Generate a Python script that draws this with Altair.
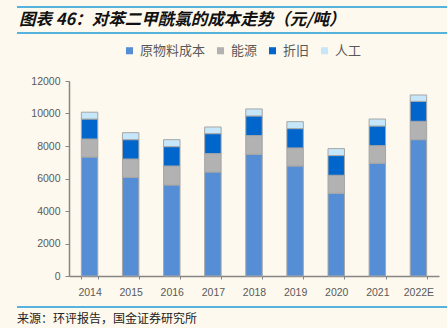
import altair as alt
import pandas as pd

years = ["2014", "2015", "2016", "2017", "2018", "2019", "2020", "2021", "2022E"]
raw = [7320, 6070, 5600, 6400, 7490, 6770, 5090, 6940, 8390]
energy = [1110, 1130, 1170, 1130, 1150, 1110, 1110, 1080, 1130]
deprec = [1230, 1190, 1190, 1230, 1210, 1190, 1210, 1210, 1230]
labor = [420, 430, 430, 410, 430, 430, 430, 430, 390]
series = ["原物料成本", "能源", "折旧", "人工"]
colors = ["#558ED5", "#B2B2B2", "#0066CC", "#C6E7FA"]

rows = []
for i, y in enumerate(years):
    for k, (name, vals) in enumerate(zip(series, [raw, energy, deprec, labor])):
        rows.append({"year": y, "series": name, "value": vals[i], "order": k})
df = pd.DataFrame(rows)

FONT_CN = "Noto Sans CJK SC"
FONT_NUM = "Liberation Sans"
LINE = "#1E9BD7"

bars = alt.Chart(df).mark_bar(stroke="#A6A6A6", strokeWidth=1).encode(
    x=alt.X("year:N", sort=years, title=None,
            scale=alt.Scale(paddingInner=0.6, paddingOuter=0.3),
            axis=alt.Axis(labelAngle=0, labelFont=FONT_NUM, labelFontSize=10.5,
                          labelColor="#595959", domainColor="#868686", tickColor="#868686",
                          tickSize=3, tickBand="extent", labelPadding=8, domainWidth=1.5)),
    y=alt.Y("value:Q", stack="zero", title=None,
            scale=alt.Scale(domain=[0, 12000], nice=False),
            axis=alt.Axis(values=[0, 2000, 4000, 6000, 8000, 10000, 12000], grid=False,
                          format="d",
                          labelFont=FONT_NUM, labelFontSize=10.5, labelColor="#595959",
                          domainColor="#868686", tickColor="#868686", tickSize=4,
                          labelPadding=5, domainWidth=1.5)),
    color=alt.Color("series:N", sort=series,
                    scale=alt.Scale(domain=series, range=colors),
                    legend=alt.Legend(orient="none", legendX=54, legendY=-37, direction="horizontal",
                                      title=None, symbolType="square", symbolSize=50,
                                      symbolStrokeWidth=0, labelFont=FONT_CN, labelFontSize=13,
                                      labelColor="#595959", labelOffset=4, columnPadding=8)),
    order=alt.Order("order:Q", sort="ascending"),
)

title = alt.Chart(pd.DataFrame({"t": ["图表 46：对苯二甲酰氯的成本走势（元/吨）"]})).mark_text(
    align="left", baseline="middle", font=FONT_CN, fontSize=16.5, fontWeight="bold",
    fontStyle="italic", color="#111111"
).encode(text="t:N", x=alt.value(-50), y=alt.value(-61))

footer = alt.Chart(pd.DataFrame({"t": ["来源：环评报告，国金证券研究所"]})).mark_text(
    align="left", baseline="middle", font=FONT_CN, fontSize=12, color="#222222"
).encode(text="t:N", x=alt.value(-52), y=alt.value(238))

line1 = alt.Chart(pd.DataFrame({"a": [0]})).mark_rule(color=LINE, strokeWidth=1.5).encode(
    x=alt.value(-52), x2=alt.value(378), y=alt.value(-74))
line2 = alt.Chart(pd.DataFrame({"a": [0]})).mark_rule(color=LINE, strokeWidth=1.5).encode(
    x=alt.value(-52), x2=alt.value(378), y=alt.value(-48))
line3 = alt.Chart(pd.DataFrame({"a": [0]})).mark_rule(color=LINE, strokeWidth=1.5).encode(
    x=alt.value(-52), x2=alt.value(378), y=alt.value(226))

chart = alt.layer(bars, title, footer, line1, line2, line3).properties(
    width=370, height=195,
    autosize=alt.AutoSizeParams(type="none"),
    padding={"left": 69, "top": 81, "right": 8, "bottom": 52},
    background="#FEF9EE",
).configure_view(stroke=None)

chart.save("out.html", embed_options={"renderer": "svg", "actions": False})
